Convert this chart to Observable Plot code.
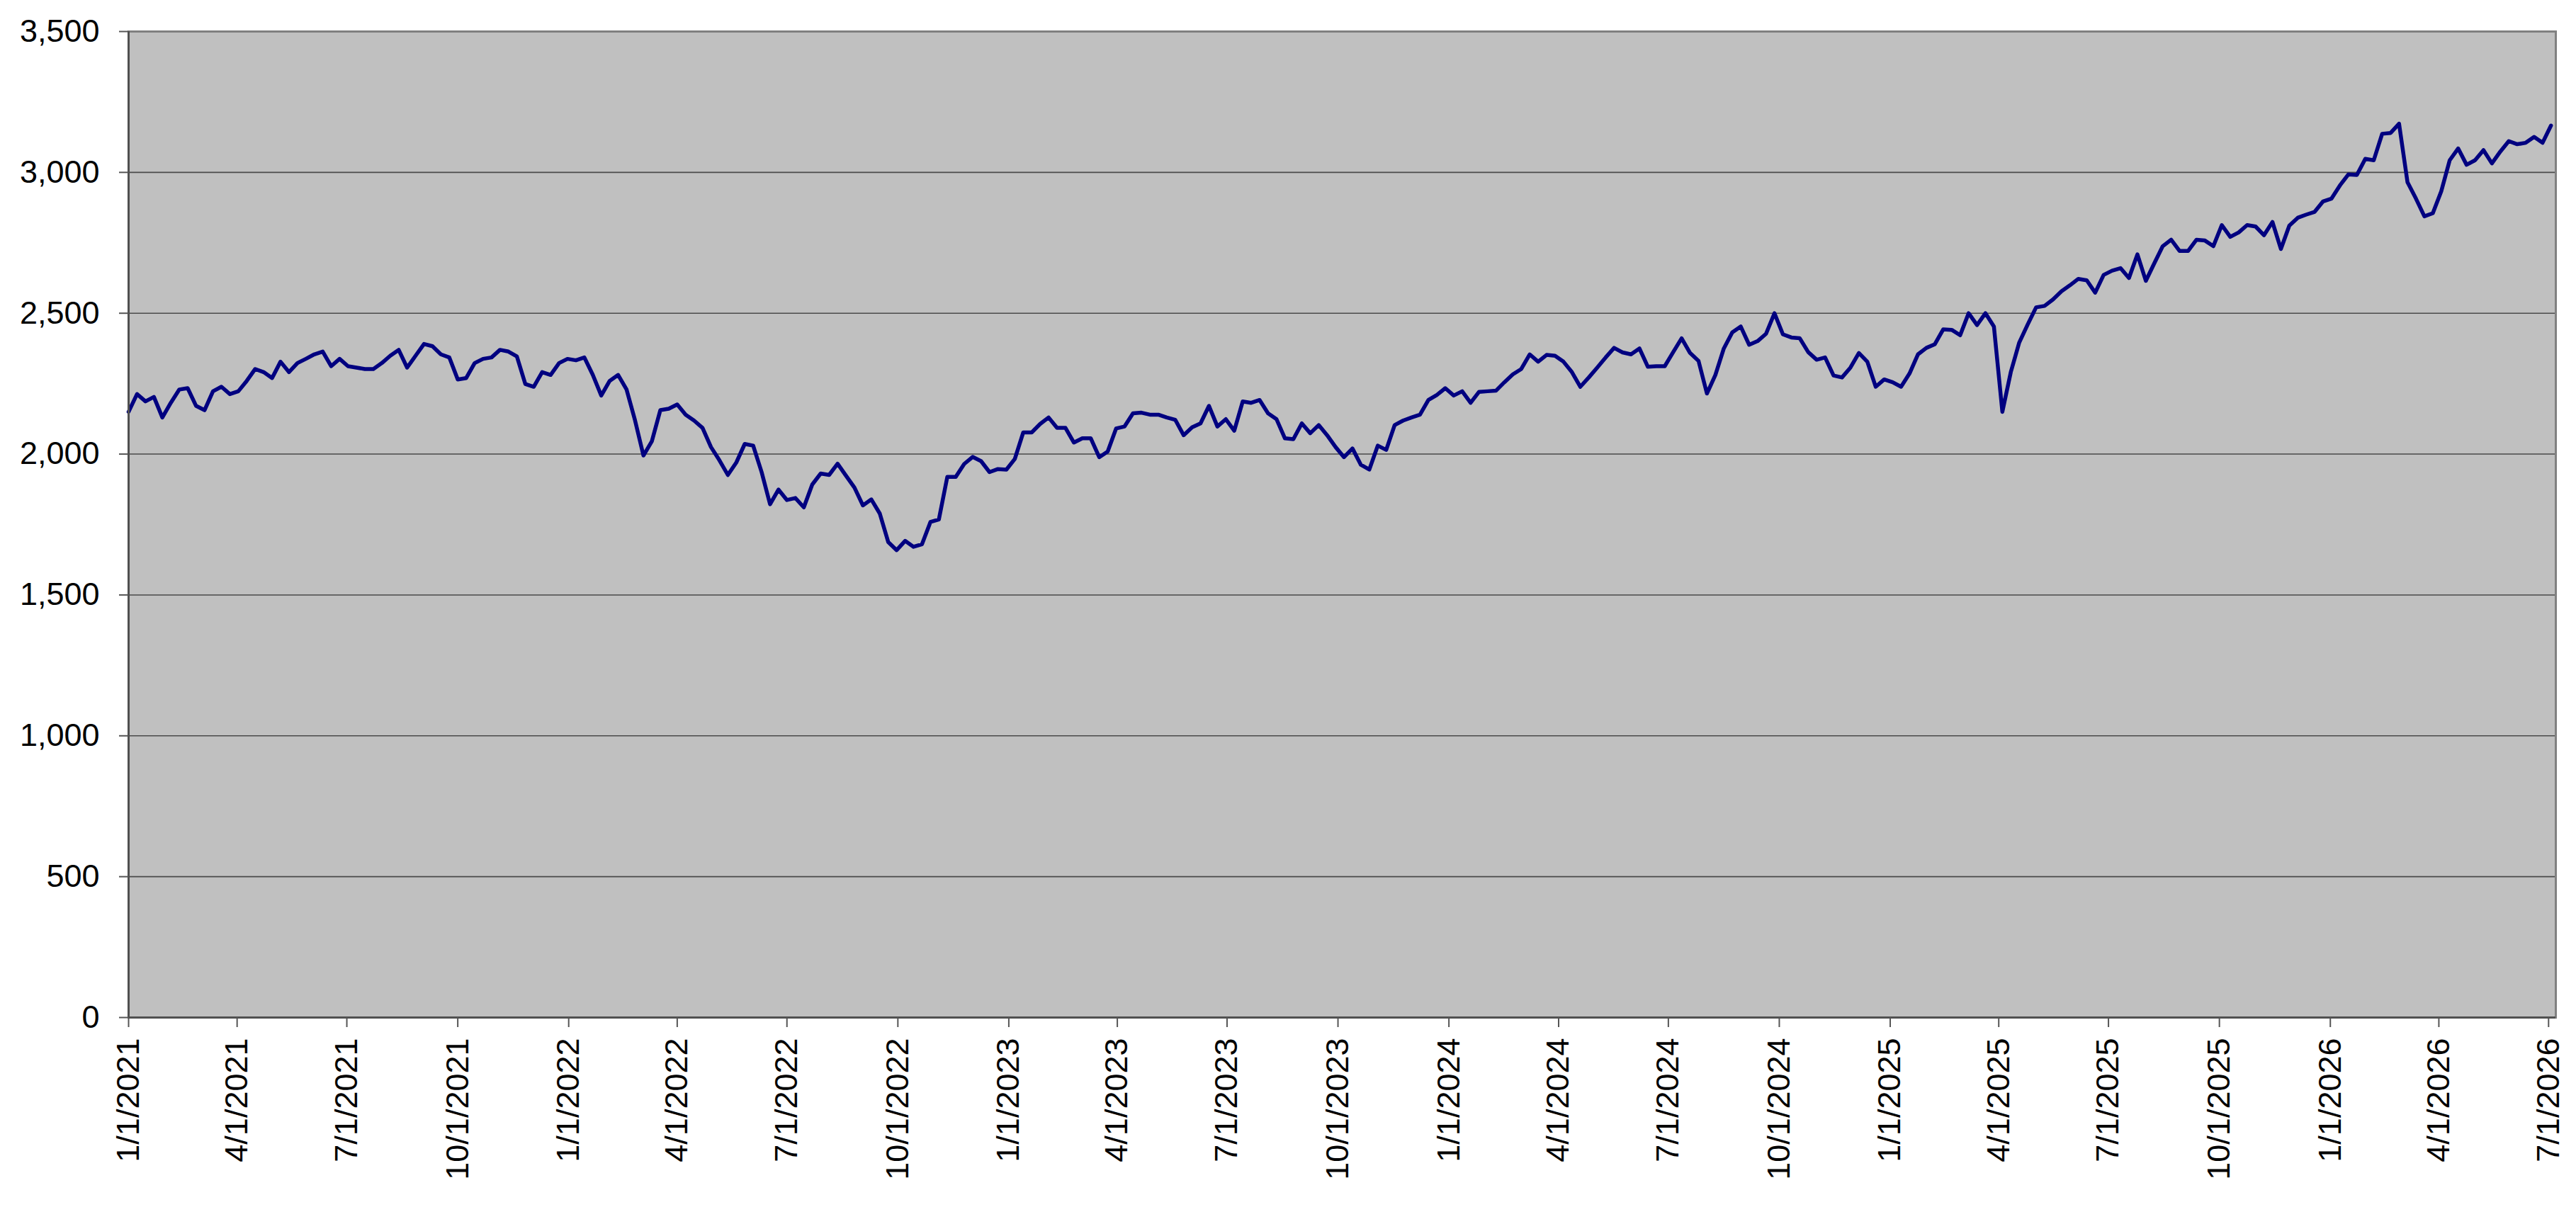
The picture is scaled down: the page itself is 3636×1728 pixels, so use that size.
<!DOCTYPE html>
<html>
<head>
<meta charset="utf-8">
<script src="https://cdn.jsdelivr.net/npm/d3@7"></script>
<script src="https://cdn.jsdelivr.net/npm/@observablehq/plot@0.6"></script>
<style>
  html, body { margin: 0; padding: 0; background: #ffffff; }
  #chart svg { display: block; }
</style>
</head>
<body>
<div id="chart"></div>
<script>
// Weekly readings starting on this date
const startDate = "2021-01-01";
const stepDays = 7;
const xDomainEnd = "2026-07-07";

const values2021 = [2150,2213,2187,2203,2130,2182,2229,2234,2171,2156,2223,2239,2213,2223,2260,2302,2291,2270,2328,2291,2323,2338,2354,2364,2312,2338,2312,2307,2302,2302,2323,2349,2370,2307,2349,2391,2383,2354,2343,2265,2270,2323,2338,2343,2370,2364,2347,2249,2239,2291,2281,2323,2338];
const values2022 = [2333,2343,2281,2208,2260,2281,2229,2120,1995,2046,2156,2161,2176,2140,2119,2093,2025,1978,1926,1970,2036,2030,1936,1822,1874,1837,1844,1811,1892,1931,1926,1966,1923,1881,1818,1839,1789,1688,1659,1692,1671,1680,1759,1768,1919,1919,1965,1990,1975,1936,1947,1945];
const values2023 = [1983,2077,2077,2107,2130,2093,2093,2041,2056,2056,1989,2009,2091,2098,2145,2147,2140,2140,2130,2122,2067,2095,2109,2171,2098,2124,2083,2187,2182,2192,2145,2124,2056,2053,2109,2074,2103,2067,2025,1989,2020,1962,1945,2030,2015,2103,2119,2130,2140,2192,2210,2234];
const values2024 = [2208,2223,2182,2221,2223,2225,2255,2283,2302,2354,2328,2352,2349,2328,2291,2239,2272,2307,2343,2377,2361,2354,2375,2310,2312,2312,2362,2411,2359,2331,2215,2281,2375,2432,2453,2388,2401,2427,2500,2425,2414,2411,2362,2335,2343,2279,2272,2307,2359,2328,2239,2265];
const values2025 = [2255,2239,2286,2354,2377,2390,2443,2441,2422,2500,2458,2500,2453,2150,2291,2396,2460,2521,2526,2549,2578,2599,2622,2617,2573,2636,2651,2660,2625,2709,2615,2677,2738,2761,2721,2721,2761,2758,2738,2813,2771,2787,2813,2808,2777,2824,2728,2811,2839,2850,2860,2897];
const values2026 = [2907,2954,2993,2991,3048,3043,3137,3140,3173,2965,2907,2844,2855,2933,3043,3085,3027,3043,3079,3032,3074,3111,3100,3105,3126,3105,3166];

const yTicks = [0, 500, 1000, 1500, 2000, 2500, 3000, 3500];
const xTickLabels = ["1/1/2021","4/1/2021","7/1/2021","10/1/2021","1/1/2022","4/1/2022","7/1/2022","10/1/2022","1/1/2023","4/1/2023","7/1/2023","10/1/2023","1/1/2024","4/1/2024","7/1/2024","10/1/2024","1/1/2025","4/1/2025","7/1/2025","10/1/2025","1/1/2026","4/1/2026","7/1/2026"];

const values = [].concat(values2021, values2022, values2023, values2024, values2025, values2026);
const t0 = new Date(startDate);
const data = values.map((v, i) => ({ date: d3.utcDay.offset(t0, i * stepDays), value: v }));

const parseMDY = s => { const [m, d, y] = s.split("/").map(Number); return new Date(Date.UTC(y, m - 1, d)); };
const xTicks = xTickLabels.map(parseMDY);
const labelByTime = new Map(xTicks.map((d, i) => [+d, xTickLabels[i]]));

const chart = Plot.plot({
  width: 3636,
  height: 1728,
  marginLeft: 181,
  marginRight: 29,
  marginTop: 44,
  marginBottom: 292,
  style: { fontFamily: "'Liberation Sans', Arial, sans-serif", fontSize: "45px", background: "#ffffff", color: "#000000" },
  x: { type: "utc", domain: [t0, new Date(xDomainEnd)], label: null },
  y: { domain: [0, 3500], label: null },
  marks: [
    Plot.frame({ fill: "#C0C0C0", stroke: null }),
    Plot.ruleY(yTicks.filter(v => v > 0 && v < 3500), { stroke: "#4a4a4a", strokeWidth: 1.6 }),
    Plot.line(data, { x: "date", y: "value", stroke: "#000080", strokeWidth: 5.5, strokeLinejoin: "round" }),
    Plot.frame({ stroke: "#808080", strokeWidth: 3 }),
    Plot.ruleY([0], { stroke: "#505050", strokeWidth: 3 }),
    Plot.ruleX([t0], { stroke: "#505050", strokeWidth: 3 }),
    Plot.axisY({ ticks: yTicks, tickFormat: d3.format(","), tickSize: 13, tickPadding: 28, stroke: "#555", strokeWidth: 2, fill: "#000", fontSize: 45 }),
    Plot.axisX({ ticks: xTicks, tickFormat: d => labelByTime.get(+d), tickRotate: -90, tickSize: 14, tickPadding: 15, stroke: "#555", strokeWidth: 2, fill: "#000", fontSize: 45 })
  ]
});
document.getElementById("chart").appendChild(chart);
</script>
</body>
</html>
